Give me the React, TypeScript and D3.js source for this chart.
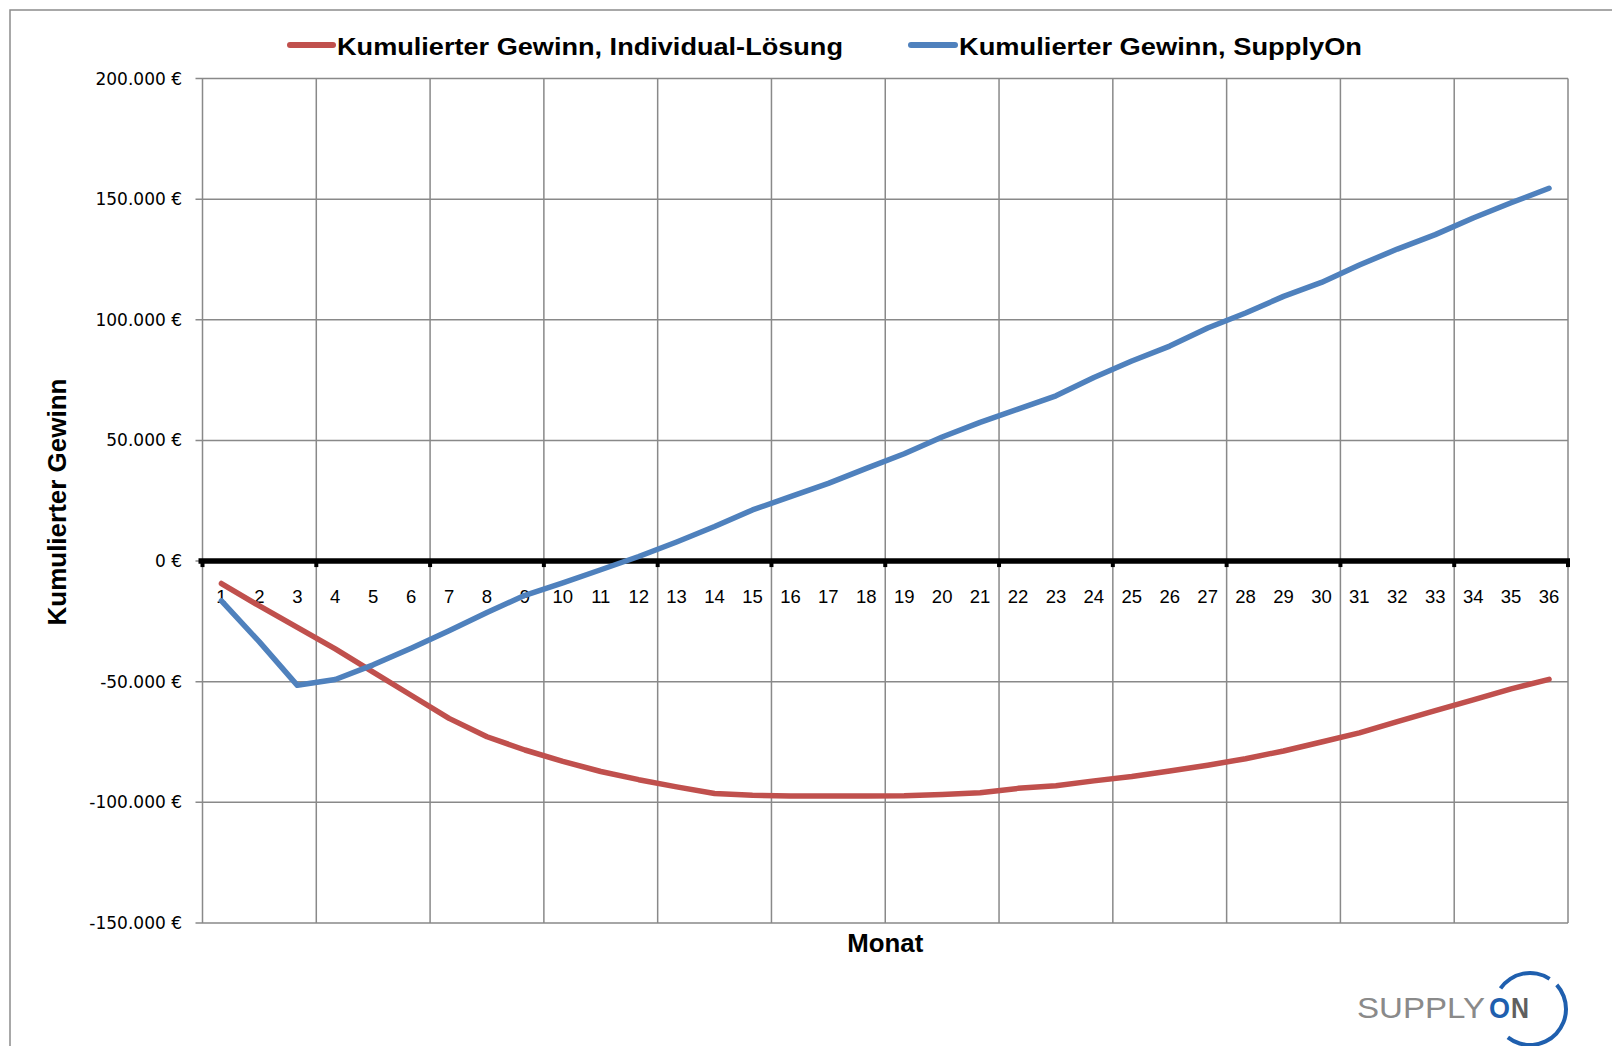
import * as d3 from "d3";

const months = d3.range(1, 37).map(String);

const individual = [
  -9300, -18600, -27500, -36400, -46000, -55600, -65200, -72800, -78300, -83000,
  -87200, -90600, -93600, -96300, -97100, -97400, -97400, -97400, -97300, -96700,
  -96000, -94200, -93100, -91100, -89300, -87000, -84600, -81900, -78700, -75000,
  -71200, -66500, -62000, -57500, -53000, -49000,
];

const supplyOn = [
  -16500, -33500, -51500, -49100, -43000, -36100, -28900, -21300, -14200, -9000,
  -3600, 1900, 7900, 14300, 21200, 26700, 32200, 38400, 44500, 51400,
  57500, 63000, 68500, 76100, 82900, 89100, 96600, 102800, 109700, 115500,
  122700, 129300, 135300, 142200, 148500, 154500,
];

const yTicks = [200000, 150000, 100000, 50000, 0, -50000, -100000, -150000];

const seriesNames = [
  "Kumulierter Gewinn, Individual-Lösung",
  "Kumulierter Gewinn, SupplyOn",
];

const W = 1612;
const H = 1046;
const left = 202.5;
const right = 1568;
const top = 78.5;
const bottom = 923;

const RED = "#C0504D";
const BLUE = "#4F81BD";
const GRID = "#898989";
const LOGO_BLUE = "#1f5fae";

function euro(v: number) {
  if (v === 0) return "0 €";
  const s = d3.format(",")(Math.abs(v)).replace(/,/g, ".");
  return (v < 0 ? "-" : "") + s + " €";
}

export default function App() {
  const x = d3.scaleBand().domain(months).range([left, right]).padding(0);
  const y = d3.scaleLinear().domain([-150000, 200000]).range([bottom, top]);
  const cx = (i: number) => (x(months[i]) ?? 0) + x.bandwidth() / 2;

  const line = d3
    .line<number>()
    .x((_, i) => cx(i))
    .y((d) => y(d));

  // gridlines every 3 months, plus the right edge
  const vLines = months
    .filter((_, i) => i % 3 === 0)
    .map((m) => x(m) ?? 0)
    .concat([right]);

  const y0 = y(0);

  // SupplyOn logo ring
  const ring = d3.arc<any>().innerRadius(34).outerRadius(38);
  const deg = Math.PI / 180;

  return (
    <svg
      width={W}
      height={H}
      viewBox={`0 0 ${W} ${H}`}
      style={{ position: "absolute", left: 0, top: 0, display: "block", background: "#fff" }}
    >
      <rect x={10} y={10} width={W + 20} height={H + 20} fill="#fff" stroke="#8c8c8c" strokeWidth={1.5} />

      {/* legend */}
      <g fontFamily="'Liberation Sans', Arial, sans-serif" fontWeight="bold" fontSize={24}>
        <line x1={290} x2={333} y1={45} y2={45} stroke={RED} strokeWidth={6} strokeLinecap="round" />
        <text x={337} y={55} textLength={506} lengthAdjust="spacingAndGlyphs">
          {seriesNames[0]}
        </text>
        <line x1={911} x2={955} y1={45} y2={45} stroke={BLUE} strokeWidth={6} strokeLinecap="round" />
        <text x={959} y={55} textLength={403} lengthAdjust="spacingAndGlyphs">
          {seriesNames[1]}
        </text>
      </g>

      {/* horizontal gridlines */}
      {yTicks.map((t) => (
        <g key={t}>
          <line x1={left - 7} x2={right} y1={y(t)} y2={y(t)} stroke={GRID} strokeWidth={1.5} />
          <text
            x={182}
            y={y(t) + 6}
            textAnchor="end"
            fontFamily="'DejaVu Sans', Verdana, sans-serif"
            fontSize={17}
            fill="#000"
          >
            {euro(t)}
          </text>
        </g>
      ))}

      {/* vertical gridlines */}
      {vLines.map((v, i) => (
        <line key={i} x1={v} x2={v} y1={top} y2={bottom} stroke={GRID} strokeWidth={1.5} />
      ))}

      {/* zero axis */}
      <line x1={left - 4} x2={right + 2} y1={y0} y2={y0} stroke="#000" strokeWidth={5.5} />
      {vLines.map((v, i) => (
        <line key={"t" + i} x1={v} x2={v} y1={y0} y2={y0 + 6} stroke="#000" strokeWidth={4} />
      ))}

      {/* month labels */}
      {months.map((m, i) => (
        <text
          key={m}
          x={cx(i)}
          y={603}
          textAnchor="middle"
          fontFamily="'Liberation Sans', Arial, sans-serif"
          fontSize={18.5}
          fill="#000"
        >
          {m}
        </text>
      ))}

      {/* series */}
      <path d={line(individual) ?? ""} fill="none" stroke={RED} strokeWidth={5.5} strokeLinejoin="round" strokeLinecap="round" />
      <path d={line(supplyOn) ?? ""} fill="none" stroke={BLUE} strokeWidth={5.5} strokeLinejoin="round" strokeLinecap="round" />

      {/* axis titles */}
      <text
        transform="translate(66,502) rotate(-90)"
        textAnchor="middle"
        fontFamily="'Liberation Sans', Arial, sans-serif"
        fontWeight="bold"
        fontSize={25}
        textLength={247}
        lengthAdjust="spacingAndGlyphs"
      >
        Kumulierter Gewinn
      </text>
      <text
        x={(left + right) / 2}
        y={952}
        textAnchor="middle"
        fontFamily="'Liberation Sans', Arial, sans-serif"
        fontWeight="bold"
        fontSize={25}
        textLength={76}
        lengthAdjust="spacingAndGlyphs"
      >
        Monat
      </text>

      {/* logo */}
      <g transform="translate(1530,1009)">
        <path d={ring({ startAngle: -55 * deg, endAngle: 33 * deg }) ?? ""} fill={LOGO_BLUE} />
        <path d={ring({ startAngle: 48 * deg, endAngle: 218 * deg }) ?? ""} fill={LOGO_BLUE} />
      </g>
      <text x={1357} y={1018} fontFamily="'Liberation Sans', Arial, sans-serif" fontSize={30} fill="#8a8a8a" textLength={128} lengthAdjust="spacingAndGlyphs">
        SUPPLY
      </text>
      <text x={1489} y={1018} fontFamily="'Liberation Sans', Arial, sans-serif" fontSize={30} fontWeight="bold" fill={LOGO_BLUE} textLength={21} lengthAdjust="spacingAndGlyphs">
        O
      </text>
      <text x={1511} y={1018} fontFamily="'Liberation Sans', Arial, sans-serif" fontSize={30} fontWeight="bold" fill="#5f5f5f" textLength={18} lengthAdjust="spacingAndGlyphs">
        N
      </text>
    </svg>
  );
}
